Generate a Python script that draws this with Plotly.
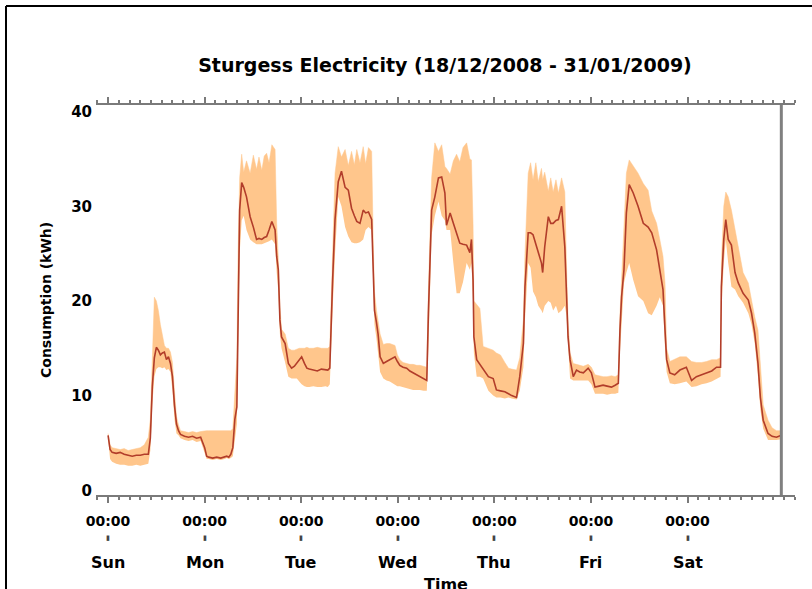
import plotly.graph_objects as go

# ---- data (hours since Sunday 00:00) ----
hours = [0.0, 0.5, 1, 2, 3, 4, 5, 6, 7, 8, 9, 10, 10.5, 11, 11.5, 12, 12.5, 13, 13.5, 14, 14.5, 15, 15.5, 16, 16.5, 17, 17.5, 18, 19, 20, 21, 22, 23, 24,
         24.5, 25, 26, 27, 28, 29, 29.5, 30, 30.5, 31, 31.5, 32, 32.3, 32.7, 33.2,
         33.7, 34.4, 35.3, 36.1, 36.9, 37.5, 38.2, 38.8, 39.4, 40.0, 40.7, 41.5, 41.9, 42.3, 42.7, 43.1, 44.0, 44.8, 45.6, 46.3, 46.9, 47.5, 48.1,
         48.8, 49.4, 50.0, 51.0, 52.0, 53.0, 54.0, 54.6, 55.1,
         55.3, 55.8, 56.4, 57.2, 58.0, 58.9, 59.7, 60.5, 61.2, 61.8, 62.6, 63.4, 64.0, 64.7, 65.5, 65.9, 66.2, 66.7, 67.1, 67.6, 68.4, 69.2, 70.0,
         70.7, 71.3, 71.9, 72.5, 73.3, 74.2, 75.0, 75.8, 76.7, 77.5, 78.4, 79.2,
         79.6, 80.0, 80.4, 81.2, 82.1, 82.9, 83.7, 84.1, 85.0, 85.8, 86.6, 87.4, 88.2, 89.1, 89.9, 90.3, 90.7, 90.9, 91.6, 92.4, 93.2, 94.5, 95.7,
         96.5, 97.5, 98.6, 99.5, 100.3, 101.5, 102.3, 103.2, 103.6, 104.4, 105.0, 105.6, 106.3, 106.9, 107.7, 108.0, 108.5, 109.4, 110.0, 110.6,
         111.3, 111.9, 112.7, 113.5, 113.9, 114.3, 114.8, 115.6, 116.4, 117.2, 118.1, 119.3, 120.1, 121.0, 122.0, 123.0, 124.0, 125.1, 126.0,
         126.8, 127.2, 127.6, 128.2, 128.8, 129.5, 130.5, 131.7, 133.0, 134.2, 135.1, 136.3, 137.1, 137.9, 138.4, 138.8, 139.6, 140.8, 142.1,
         143.7, 145.0, 146.2, 147.5, 148.7, 150.0, 151.2, 152.2, 152.4, 153.0, 153.5, 154.1, 154.9, 155.8, 156.6, 157.8, 159.1, 159.9, 160.7,
         161.5, 162.1, 162.8, 164.0, 165.0, 166.1, 167.3]

mean_kwh = [5.8, 4.3, 4.0, 3.9, 4.0, 3.8, 3.7, 3.6, 3.7, 3.7, 3.8, 3.8, 5.5, 11.0, 14.0, 15.1, 14.8, 14.3, 14.5, 14.6, 13.8, 14.1, 13.4, 12.0, 9.0, 7.0, 6.3, 5.9, 5.7, 5.6, 5.7, 5.5, 5.6, 4.5,
            3.6, 3.5, 3.4, 3.5, 3.4, 3.5, 3.6, 3.5, 3.8, 4.5, 7.5, 8.8, 19.8, 29.6, 32.5,
            32.0, 31.0, 28.9, 27.8, 26.5, 26.6, 26.5, 26.7, 26.8, 27.5, 28.4, 27.5, 24.7, 23.3, 18.0, 16.2, 15.5, 13.4, 12.9, 13.1, 13.4, 13.8, 14.1,
            13.4, 12.9, 12.8, 12.7, 12.6, 12.8, 12.7, 12.7, 12.9,
            16.2, 22.2, 28.6, 32.6, 33.7, 32.0, 31.7, 29.8, 29.0, 28.4, 28.2, 29.6, 29.3, 29.4, 28.6, 24.0, 19.0, 17.7, 16.5, 14.1, 13.4, 13.6, 13.8,
            13.9, 14.1, 13.6, 13.2, 13.0, 12.9, 12.6, 12.4, 12.2, 12.0, 11.8, 11.6,
            18.7, 24.0, 29.6, 31.0, 33.0, 33.1, 31.4, 28.0, 29.3, 28.2, 27.2, 26.1, 26.0, 25.9, 25.1, 26.5, 22.2, 16.2, 13.8, 13.3, 12.9, 12.0, 11.8,
            10.6, 10.5, 10.4, 10.2, 10.0, 9.8, 12.0, 15.5, 21.5, 27.2, 27.2, 27.0, 26.0, 25.1, 24.0, 23.0, 25.7, 28.9, 28.2, 28.2,
            28.5, 28.6, 30.0, 25.7, 20.4, 16.2, 13.8, 12.0, 12.7, 12.5, 12.4, 12.9, 12.4, 10.9, 11.0, 11.1, 11.0, 10.9, 11.1,
            11.3, 16.9, 20.4, 23.3, 29.3, 32.3, 31.4, 30.0, 28.2, 27.8, 27.2, 25.4, 23.3, 21.2, 16.9, 13.8, 12.4, 12.2, 12.7,
            13.0, 11.6, 12.0, 12.2, 12.4, 12.6, 13.0, 13.0, 21.5, 26.5, 28.6, 26.5, 25.9, 23.0, 21.9, 20.8, 20.1, 18.7, 16.6,
            13.4, 9.8, 7.4, 6.0, 5.7, 5.6, 5.8]

min_kwh = [5.5, 3.3, 3.0, 2.8, 2.7, 2.7, 2.6, 2.6, 2.7, 2.6, 2.7, 2.8, 4.2, 9.0, 12.0, 12.8, 13.0, 13.0, 12.9, 13.0, 12.7, 12.8, 12.5, 10.5, 7.5, 6.0, 5.8, 5.5, 5.3, 5.2, 5.3, 5.1, 5.2, 3.8,
           3.3, 3.3, 3.2, 3.3, 3.2, 3.3, 3.4, 3.3, 3.4, 3.6, 5.5, 7.0, 15.0, 25.0, 28.5,
           29.0, 27.5, 26.5, 26.2, 26.0, 26.0, 26.0, 26.1, 26.2, 26.3, 26.5, 26.0, 23.0, 21.0, 16.5, 15.0, 13.5, 12.0, 11.8, 11.8, 11.8, 11.5, 11.2,
           11.0, 10.9, 10.9, 11.0, 10.9, 10.9, 11.0, 10.9, 11.2,
           13.0, 19.0, 25.0, 31.0, 30.0, 27.8, 26.8, 26.2, 26.1, 26.1, 26.2, 26.5, 27.5, 27.8, 27.5, 22.5, 17.5, 16.0, 14.5, 12.5, 11.8, 11.6, 11.5,
           11.3, 11.2, 11.0, 11.0, 10.9, 10.8, 10.7, 10.6, 10.6, 10.6, 10.5, 10.5,
           15.0, 21.0, 27.0, 29.0, 30.5, 29.0, 28.5, 27.5, 27.5, 24.0, 20.8, 20.8, 22.0, 24.0, 23.3, 24.0, 20.0, 14.5, 12.0, 12.0, 11.8, 10.5, 10.0,
           9.8, 9.8, 9.7, 9.8, 9.7, 9.6, 10.5, 13.0, 18.0, 24.0, 23.5, 21.0, 20.4, 19.5, 19.0, 18.7, 19.5, 20.0, 19.8, 19.0,
           19.5, 18.7, 19.0, 19.5, 18.5, 15.0, 11.8, 11.6, 11.6, 11.6, 11.6, 11.6, 11.2, 10.2, 10.2, 10.2, 10.1, 10.2, 10.2,
           10.3, 14.5, 18.0, 21.9, 23.0, 24.0, 22.2, 20.5, 20.0, 18.7, 18.5, 19.5, 20.4, 19.5, 15.0, 12.5, 11.3, 11.2, 11.3,
           11.5, 10.9, 11.0, 11.2, 11.3, 11.5, 11.8, 12.0, 19.0, 24.0, 26.5, 24.0, 21.5, 21.2, 20.5, 19.8, 18.7, 17.5, 15.5,
           12.0, 8.5, 6.5, 5.3, 5.3, 5.3, 5.4]

max_kwh = [6.0, 4.8, 4.5, 4.4, 4.3, 4.4, 4.2, 4.3, 4.4, 4.5, 4.8, 5.6, 7.5, 13.0, 20.4, 20.0, 19.0, 17.5, 16.2, 15.3, 15.0, 15.0, 14.6, 13.5, 10.5, 7.8, 6.9, 6.3, 6.2, 6.1, 6.2, 6.1, 6.2, 6.3,
           6.3, 6.3, 6.3, 6.3, 6.3, 6.3, 6.3, 6.3, 6.3, 6.5, 10.0, 14.0, 25.0, 33.0, 35.5,
           33.6, 34.8, 33.5, 35.4, 33.9, 35.2, 33.8, 35.3, 35.6, 34.6, 36.5, 36.0, 28.2, 24.5, 19.5, 17.0, 16.5, 15.0, 14.8, 14.8, 14.9, 15.0, 15.0,
           15.0, 15.1, 15.0, 15.0, 15.1, 15.0, 15.0, 15.0, 15.2,
           18.0, 25.0, 33.5, 36.3, 35.2, 36.0, 34.3, 35.8, 34.4, 36.0, 34.6, 36.3, 34.5, 36.2, 35.8, 26.0, 21.0, 19.0, 18.0, 16.5, 15.4, 15.5, 15.5,
           15.4, 15.3, 14.3, 13.8, 13.5, 13.4, 13.3, 13.3, 13.2, 13.2, 13.1, 13.0,
           21.0, 27.0, 33.0, 36.7, 35.8, 36.5, 34.2, 34.0, 33.4, 34.8, 35.5, 34.7, 36.2, 36.7, 35.0, 34.9, 28.0, 20.0, 19.6, 19.2, 15.2, 15.0, 14.8,
           14.5, 14.3, 13.5, 12.9, 12.8, 12.7, 14.0, 18.0, 25.0, 33.5, 34.6, 32.8, 34.6, 32.6, 34.0, 32.8, 33.6, 31.6, 33.0, 31.5,
           32.8, 31.4, 33.0, 31.5, 24.0, 18.0, 14.5, 13.4, 13.3, 13.2, 13.1, 13.3, 13.0, 12.2, 12.1, 12.0, 12.0, 12.1, 12.0,
           12.2, 18.5, 22.5, 28.0, 33.5, 34.9, 34.2, 33.5, 32.4, 31.7, 29.5, 28.2, 26.5, 24.7, 21.9, 15.0, 13.6, 13.8, 14.1,
           14.1, 13.6, 13.5, 13.5, 13.6, 13.8, 13.8, 14.0, 24.0, 30.0, 31.5, 31.0, 29.6, 27.5, 25.4, 23.0, 21.9, 20.0, 18.3,
           16.9, 12.7, 9.0, 7.4, 6.6, 6.3, 6.3]

day_hours = [0, 24, 48, 72, 96, 120, 144]
day_names = ["Sun", "Mon", "Tue", "Wed", "Thu", "Fri", "Sat"]
time_labels = ["00:00"] * 7
y_ticks = [0, 10, 20, 30, 40]
data_end_hour = 167.3

FONT = "DejaVu Sans"
BAND = "#FFC68C"
LINE = "#B23D2A"
AXIS = "#7a7a7a"

fig = go.Figure()
fig.add_trace(go.Scatter(x=hours, y=min_kwh, mode="lines", line=dict(width=0, color=BAND),
                         hoverinfo="skip", showlegend=False))
fig.add_trace(go.Scatter(x=hours, y=max_kwh, mode="lines", line=dict(width=0.5, color=BAND),
                         fill="tonexty", fillcolor=BAND, showlegend=False))
fig.add_trace(go.Scatter(x=hours, y=mean_kwh, mode="lines", line=dict(width=1.6, color=LINE),
                         showlegend=False))

# plot area: x 96..795 px, y 105..495 px
L, R, T, B = 96, 17, 105, 94
W, H = 812, 589
pw, ph = W - L - R, H - T - B
def px(x):
    return (x - L) / pw
def py(y):
    return (H - B - y) / ph

fig.update_layout(
    width=W, height=H,
    margin=dict(l=L, r=R, t=T, b=B, pad=0),
    paper_bgcolor="white", plot_bgcolor="white",
    font=dict(family=FONT, color="black"),
    showlegend=False,
    title=dict(text="<b>Sturgess Electricity (18/12/2008 - 31/01/2009)</b>",
               x=445 / W, xanchor="center", y=1 - 65 / H, yanchor="middle",
               font=dict(size=19, family=FONT, color="black")),
    xaxis=dict(range=[-3, 170.7], tickmode="array", tickvals=day_hours, ticktext=time_labels,
               ticks="outside", ticklen=6, tickwidth=2, tickcolor=AXIS,
               showline=True, linecolor=AXIS, linewidth=2, mirror="ticks",
               showgrid=False, zeroline=False, ticklabelstandoff=6,
               tickfont=dict(size=14, family=FONT, color="black", weight="bold"),
               minor=dict(dtick=24 / 9, tick0=0, ticks="outside", ticklen=3, tickwidth=2,
                          tickcolor=AXIS, showgrid=False)),
    yaxis=dict(range=[-0.5, 40.7], tickmode="array", tickvals=y_ticks,
               ticks="", showline=False, showgrid=False, zeroline=False,
               ticklabelstandoff=3,
               tickfont=dict(size=15, family=FONT, color="black", weight="bold")),
)

# separator marks and day names below the time labels
for h, name in zip(day_hours, day_names):
    fig.add_annotation(x=h, xref="x", y=py(538), yref="paper", text="▮", showarrow=False,
                       font=dict(size=7, color="#444444", family=FONT),
                       yanchor="middle", xanchor="center")
    fig.add_annotation(x=h, xref="x", y=py(562), yref="paper", text="<b>" + name + "</b>",
                       showarrow=False, font=dict(size=16, color="black", family=FONT),
                       yanchor="middle")

fig.add_annotation(x=px(446), xref="paper", y=py(573), yref="paper", text="<b>Time</b>",
                   showarrow=False, font=dict(size=16, color="black", family=FONT), yanchor="top")
fig.add_annotation(x=px(46), xref="paper", y=py(300), yref="paper", text="<b>Consumption (kWh)</b>",
                   textangle=-90, showarrow=False, font=dict(size=14, color="black", family=FONT),
                   xanchor="center", yanchor="middle")

# right-hand marker line at end of data
fig.add_shape(type="line", x0=data_end_hour, x1=data_end_hour, xref="x", y0=0, y1=1, yref="paper",
              line=dict(color="#808080", width=3))
# outer frame (left and top edges visible)
fig.add_shape(type="line", x0=px(6), x1=px(6), xref="paper", y0=py(600), y1=py(6), yref="paper",
              line=dict(color="black", width=2))
fig.add_shape(type="line", x0=px(6), x1=px(820), xref="paper", y0=py(6), y1=py(6), yref="paper",
              line=dict(color="black", width=2))

fig.write_html("out.html", config={"displayModeBar": False},
               post_script="document.body.style.margin='0px';")
